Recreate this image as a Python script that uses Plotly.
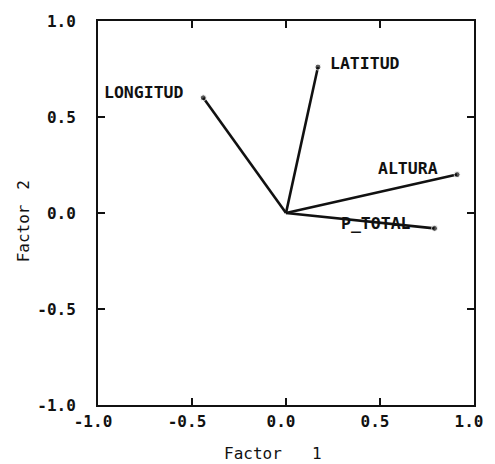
import plotly.graph_objects as go

variables = ["LONGITUD", "LATITUD", "ALTURA", "P_TOTAL"]
factor1 = [-0.44, 0.17, 0.91, 0.79]
factor2 = [0.60, 0.76, 0.20, -0.08]
tick_vals = [-1.0, -0.5, 0.0, 0.5, 1.0]
tick_text = ["-1.0", "-0.5", "0.0", "0.5", "1.0"]

# label offsets (pixels) relative to each loading endpoint
label_anchor = ["right", "left", "right", "right"]
label_dx = [-17, 10, -17, -22]
label_dy = [5, 4, 6, 5]

mono = "DejaVu Sans Mono"
ink = "#111111"

fig = go.Figure()
for name, x, y in zip(variables, factor1, factor2):
    fig.add_trace(go.Scatter(
        x=[0, x], y=[0, y], mode="lines+markers",
        line=dict(color=ink, width=2.6),
        marker=dict(size=[0, 6], color=ink),
        showlegend=False, hoverinfo="skip",
    ))

annotations = []
for name, x, y, anc, dx, dy in zip(variables, factor1, factor2, label_anchor, label_dx, label_dy):
    annotations.append(dict(
        x=x, y=y, xref="x", yref="y", text=f"<b>{name}</b>", showarrow=False,
        xanchor=anc, yanchor="middle", xshift=dx, yshift=dy,
        font=dict(family=mono, size=16.5, color=ink),
    ))

# axis titles (positions given in figure pixels, converted to paper coords below)
title_font = dict(family=mono, size=16, color=ink)
annotations += [
    dict(x=256, y=454, xref="paper", yref="paper", text="Factor", showarrow=False,
         xanchor="center", yanchor="middle", font=title_font),
    dict(x=322, y=454, xref="paper", yref="paper", text="1", showarrow=False,
         xanchor="center", yanchor="middle", font=title_font),
    dict(x=22, y=232, xref="paper", yref="paper", text="Factor", showarrow=False, textangle=-90,
         xanchor="center", yanchor="middle", font=title_font),
    dict(x=22, y=183, xref="paper", yref="paper", text="2", showarrow=False, textangle=-90,
         xanchor="center", yanchor="middle", font=title_font),
]

W, H = 495, 464
L, R, T, B = 98, 13, 17, 59
pw, ph = W - L - R, H - T - B
for a in annotations[-4:]:
    a["x"] = (a["x"] - L) / pw
    a["y"] = (H - B - a["y"]) / ph

axis_common = dict(
    range=[-1, 1], tickvals=tick_vals, ticktext=tick_text,
    ticks="inside", ticklen=7, tickwidth=2, tickcolor=ink,
    showline=True, linewidth=2, linecolor=ink, mirror="ticks",
    showgrid=False, zeroline=False, ticklabeloverflow="allow",
    tickfont=dict(family=mono, size=16, color=ink, weight="bold"),
)

fig.update_layout(
    width=W, height=H, autosize=False,
    margin=dict(l=L, r=R, t=T, b=B),
    paper_bgcolor="white", plot_bgcolor="white",
    xaxis=dict(**axis_common, ticklabelstandoff=1, ticklabelshift=-5),
    yaxis=dict(**axis_common, ticklabelstandoff=17),
    annotations=annotations,
)
fig.write_html(
    "out.html",
    config={"displayModeBar": False},
    post_script=(
        "document.documentElement.style.overflow='hidden';"
        "document.body.style.margin='0';document.body.style.padding='0';"
        "document.body.style.overflow='hidden';"
    ),
)
